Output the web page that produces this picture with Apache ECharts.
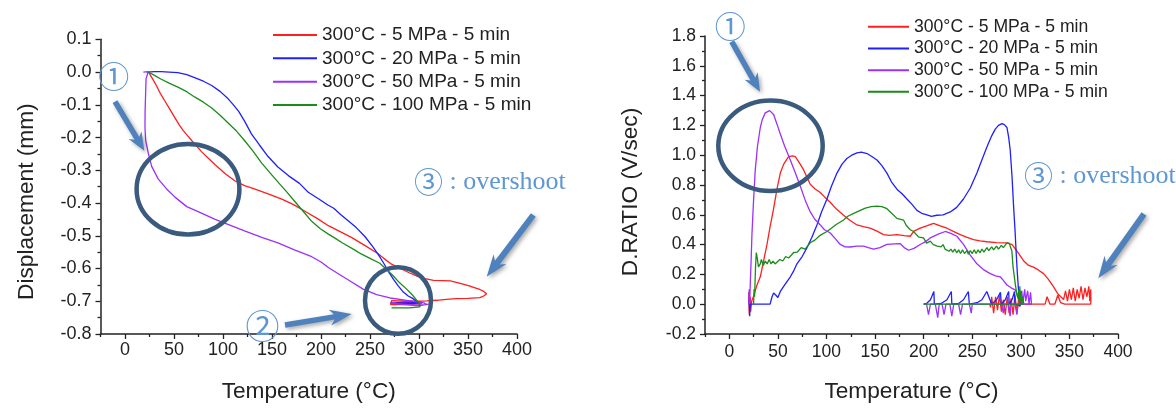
<!DOCTYPE html>
<html>
<head>
<meta charset="utf-8">
<script src="https://cdn.jsdelivr.net/npm/echarts@6/dist/echarts.min.js"></script>
<style>
html,body{margin:0;padding:0;background:#fff;}
#c{width:1176px;height:408px;}
</style>
</head>
<body>
<div id="c"></div>
<script>
// ---------- data ----------
const seriesNames = ['300°C - 5 MPa - 5 min', '300°C - 20 MPa - 5 min', '300°C - 50 MPa - 5 min', '300°C - 100 MPa - 5 min'];
const seriesColors = ['#ff1f1f', '#1f1fff', '#9b30ff', '#1a8c1a'];
const xMajorTicks = [0, 50, 100, 150, 200, 250, 300, 350, 400];
const xMinorTicks = [-25, 25, 75, 125, 175, 225, 275, 325, 375];

// Left chart: Displacement (mm) vs Temperature (°C)
const disp5 = [[24,0],[28,-0.02],[32,-0.041],[36,-0.065],[41,-0.09],[46,-0.115],[51,-0.14],[55,-0.16],[59.5,-0.179],[64,-0.195],[68,-0.209],[73,-0.226],[78,-0.243],[85,-0.263],[92,-0.283],[102,-0.31],[112,-0.332],[122,-0.347],[132,-0.357],[146,-0.372],[160,-0.388],[172,-0.405],[184,-0.426],[196,-0.447],[208,-0.47],[220,-0.488],[231,-0.505],[245,-0.53],[258,-0.554],[264,-0.569],[271,-0.585],[281,-0.6],[290,-0.613],[298,-0.623],[306,-0.631],[315,-0.636],[324,-0.637],[332,-0.638],[338,-0.642],[345,-0.648],[352,-0.654],[358,-0.66],[362,-0.664],[366,-0.67],[369,-0.677],[366,-0.684],[362,-0.689],[350,-0.691],[338,-0.692],[328,-0.694],[318,-0.697],[308,-0.699],[300,-0.7],[290,-0.699],[280,-0.699],[272,-0.698],[271,-0.704],[271,-0.71],[282,-0.71],[294,-0.709],[303,-0.707],[296,-0.703],[285,-0.703],[276,-0.704]];
const disp20 = [[22,0],[30,0.001],[37,0.001],[45,0],[54,-0.002],[63,-0.008],[71,-0.017],[80,-0.028],[88.5,-0.041],[97,-0.059],[105,-0.081],[110,-0.098],[116,-0.12],[122,-0.15],[129,-0.189],[137,-0.222],[146,-0.258],[156,-0.29],[167,-0.317],[178,-0.34],[187,-0.367],[197,-0.386],[207,-0.406],[213,-0.416],[220,-0.435],[228,-0.455],[236,-0.475],[245,-0.503],[253,-0.534],[259,-0.56],[264,-0.584],[269,-0.61],[274,-0.633],[279,-0.654],[284,-0.672],[289,-0.684],[294,-0.692],[298,-0.702],[290,-0.705],[280,-0.705],[271,-0.705],[280,-0.707],[295,-0.707],[300,-0.704]];
const disp50 = [[18.7,0],[23.8,0.001],[21.5,-0.02],[21,-0.071],[20.5,-0.12],[20.4,-0.17],[21.1,-0.209],[23.8,-0.248],[27.2,-0.288],[34,-0.327],[42.5,-0.357],[51,-0.382],[63,-0.411],[78,-0.431],[92,-0.45],[105,-0.465],[122,-0.485],[139.5,-0.505],[156,-0.522],[173.5,-0.544],[190.5,-0.564],[200,-0.58],[207.5,-0.597],[216,-0.613],[229.6,-0.638],[243,-0.663],[256.8,-0.68],[270.4,-0.69],[287.4,-0.697],[297.6,-0.702],[305,-0.705],[308,-0.71],[295,-0.712],[280,-0.708],[272,-0.706],[285,-0.71],[300,-0.714],[310,-0.709]];
const disp100 = [[24,0],[30,-0.01],[37,-0.022],[45,-0.034],[54,-0.046],[63,-0.06],[71,-0.076],[80,-0.092],[88.5,-0.11],[97,-0.132],[105,-0.155],[114,-0.181],[122,-0.209],[131,-0.243],[139.5,-0.278],[148,-0.308],[156.4,-0.337],[165,-0.366],[173.5,-0.396],[182,-0.426],[190.5,-0.456],[199,-0.478],[207.5,-0.495],[213,-0.505],[222,-0.522],[234.7,-0.544],[240,-0.554],[250,-0.569],[260,-0.584],[267,-0.603],[273.8,-0.623],[280,-0.643],[287.4,-0.663],[293,-0.68],[297.6,-0.697],[300,-0.705],[301,-0.717],[290,-0.72],[280,-0.72],[272,-0.72]];

// Right chart: D.RATIO (V/sec) vs Temperature (°C)
const ratio5 = [[20,0.08],[20.5,-0.07],[21.5,0.05],[22,-0.05],[23,0.02],[25,0.053],[28,0.12],[31.9,0.184],[35,0.28],[38.8,0.401],[42,0.52],[45.6,0.641],[49,0.77],[52.5,0.88],[56,0.94],[61,0.99],[65,0.995],[67.9,0.99],[72,0.95],[76.4,0.903],[80,0.85],[83.3,0.805],[88,0.775],[93.6,0.75],[98,0.72],[103.9,0.684],[110,0.64],[117.6,0.597],[124,0.563],[131.4,0.532],[138,0.52],[145,0.51],[152,0.49],[158.7,0.467],[165,0.462],[172.5,0.467],[180,0.46],[186.2,0.456],[190,0.49],[196.5,0.51],[203,0.525],[210.2,0.543],[217,0.525],[224,0.51],[230,0.49],[237.7,0.467],[244,0.45],[251.3,0.434],[258,0.425],[265.1,0.419],[275,0.413],[285.7,0.412],[291,0.4],[296,0.357],[300,0.32],[302.8,0.292],[308,0.26],[313,0.249],[318,0.23],[323.4,0.205],[328,0.17],[333.6,0.118],[338,0.07],[344,0.031],[346,0.09],[348,0.02],[350,0.1],[352,0.03],[354,0.11],[356,0.02],[358,0.1],[360,0.04],[362,0.12],[364,0.03],[366,0.11],[368,0.05],[370,0.12],[371,0.02],[372,0.1],[372,0],[360,0],[345,0],[341,0.01],[338,0.06],[335,0],[330,0],[327,0.05],[325,0],[310,0],[300,0],[298,0.05],[296,-0.06],[294,0.06],[292,-0.07],[290,0.04],[288,-0.06],[286,0.05],[284,-0.07],[282,0.03],[280,-0.05],[278,0.06],[276,-0.04],[274,0.05],[272,-0.06],[270,0.05],[269,-0.02],[268,0]];
const ratio20 = [[20,0],[20.5,0.05],[21,-0.08],[21.5,0],[30,0],[42,0],[44,0.05],[45.6,0.075],[48,0.06],[50,0.045],[52.5,0.086],[57,0.13],[62.8,0.184],[66,0.22],[69.6,0.271],[75,0.32],[80,0.38],[85,0.45],[90.2,0.532],[95,0.62],[100.5,0.706],[105,0.79],[110.8,0.88],[116,0.94],[121,0.978],[126,1.0],[131.4,1.016],[136,1.02],[141.7,1.011],[147,0.99],[152,0.968],[157,0.93],[162.2,0.88],[167,0.82],[172.5,0.772],[178,0.74],[182.8,0.706],[188,0.67],[193.1,0.63],[198,0.61],[203.4,0.6],[208,0.59],[213.6,0.597],[220,0.6],[227.4,0.619],[234,0.65],[241,0.706],[248,0.78],[254.8,0.88],[260,0.97],[265.1,1.055],[270,1.13],[273.7,1.175],[277,1.2],[280.6,1.212],[283,1.205],[285.7,1.186],[287.5,1.12],[289.1,1.033],[291,0.85],[292.5,0.663],[294,0.5],[295.3,0.336],[296.5,0.2],[297.6,0.096],[299.4,-0.013],[300,0],[294,0],[293.5,0.085],[291,0.03],[288,0],[287.5,0.085],[284,0.03],[280,0],[279,0.08],[275,0.03],[270,0],[265,0.085],[260,0.03],[255,0.01],[247,0],[246,0.085],[241,0.03],[236,0.005],[229,0],[228.5,0.085],[224,0.03],[218,0.005],[211,0],[210.5,0.085],[207,0.03],[203,0.005],[200,0]];
const ratio50 = [[20,0],[20.5,0.1],[21,0],[21.6,0.14],[22.5,0.3],[23.3,0.467],[25,0.7],[26.7,0.9],[29,1.06],[31.9,1.186],[34,1.24],[37,1.284],[41.5,1.299],[43.5,1.29],[45.6,1.273],[49,1.21],[52.5,1.142],[57,1.06],[62.8,0.968],[68,0.88],[73,0.793],[78,0.7],[83.3,0.619],[88,0.57],[93.6,0.532],[98,0.5],[103.9,0.478],[109,0.44],[114.2,0.401],[119,0.385],[124.5,0.384],[131,0.39],[138.2,0.39],[143,0.38],[148.5,0.369],[155,0.38],[162.2,0.401],[170,0.405],[176,0.406],[180,0.38],[184.5,0.362],[190,0.375],[196.5,0.401],[202,0.42],[206.8,0.445],[215,0.47],[222.2,0.488],[228,0.475],[234.2,0.456],[241,0.401],[248,0.33],[254.8,0.271],[262,0.23],[268.5,0.205],[274,0.19],[278.8,0.184],[282,0.16],[285.7,0.129],[290,0.11],[294.2,0.096],[297,0.06],[299.4,0.031],[301,0.09],[302,0.01],[304,0.1],[305,0.02],[307,0.09],[308.5,0],[310,0.08],[311,0],[300,0],[297,0],[296,-0.07],[294,0],[290,0],[289,-0.08],[287,0],[283,0],[282,-0.06],[280,0],[250,0],[249,-0.06],[247,0],[240,0],[238,-0.07],[236,0],[231,0],[229,-0.08],[227,0],[223,0],[221,-0.07],[219,0],[216,0],[214.5,-0.09],[212,0],[207,0],[205,-0.07],[203,0],[200,0]];
const ratio100 = [[25,0],[25.5,0.1],[26,0.05],[27,0.25],[27.8,0.347],[29,0.3],[30,0.25],[31.9,0.271],[33,0.3],[35,0.26],[37,0.29],[39,0.27],[41,0.3],[43,0.27],[45,0.29],[47,0.27],[49,0.282],[52,0.3],[55,0.29],[58,0.32],[61,0.31],[64,0.33],[66.2,0.347],[70,0.35],[74,0.38],[78,0.37],[83.3,0.412],[88,0.43],[93,0.46],[100.5,0.488],[105,0.51],[110,0.535],[117.6,0.565],[122,0.59],[128,0.61],[134.8,0.63],[140,0.645],[146,0.655],[152,0.658],[157,0.655],[162.2,0.641],[167,0.61],[172.5,0.576],[179.3,0.565],[182,0.53],[186.2,0.5],[189.6,0.488],[195,0.45],[199.9,0.445],[203,0.41],[206.8,0.423],[210,0.4],[214,0.39],[218,0.385],[220,0.4],[222,0.37],[224,0.38],[226,0.355],[228,0.37],[230,0.35],[232,0.37],[234,0.345],[236,0.365],[238,0.34],[240,0.365],[242,0.34],[244.5,0.36],[246,0.335],[248,0.36],[250,0.34],[252,0.365],[254,0.34],[256,0.365],[258,0.345],[260,0.37],[262,0.35],[265.1,0.38],[267,0.36],[270,0.385],[272,0.365],[275,0.39],[277,0.37],[280,0.395],[282,0.38],[285.7,0.412],[288,0.41],[290.8,0.357],[292,0.25],[294.2,0.14],[296,0.06],[297.6,0.031],[298,0.1],[298.5,0],[299,0.12],[299.5,0.02],[300,0.09],[301,0],[302,0.05],[303,0],[290,0],[250,0],[200,0]];

// ---------- chart ----------
const FONT = '"Liberation Sans", Arial, sans-serif';
const AX = '#222';
const chart = echarts.init(document.getElementById('c'), null, {renderer: 'canvas'});

function fmt1(v) { return Math.abs(v) < 1e-9 ? '0.0' : v.toFixed(1); }

function xMain(gi, fs, margin) {
  return {
    gridIndex: gi, type: 'value', min: -25, max: 400, position: 'bottom',
    name: 'Temperature (°C)', nameLocation: 'middle', nameGap: 46,
    nameTextStyle: {fontSize: 22.7, color: AX, fontFamily: FONT},
    axisLine: {show: true, onZero: false, lineStyle: {color: AX, width: 1.5}},
    axisTick: {show: true, customValues: xMajorTicks, length: 5, lineStyle: {color: AX, width: 1.3}},
    axisLabel: {customValues: xMajorTicks, fontSize: fs, color: AX, fontFamily: FONT, margin: margin},
    splitLine: {show: false}
  };
}
function xMinor(gi) {
  return {
    gridIndex: gi, type: 'value', min: -25, max: 400, position: 'bottom',
    axisLine: {show: false, onZero: false},
    axisTick: {show: true, customValues: xMinorTicks, length: 3, lineStyle: {color: AX, width: 1.3}},
    axisLabel: {show: false},
    splitLine: {show: false}
  };
}
function yAx(gi, min, max, interval, name, fs, nameGap, pad) {
  return {
    gridIndex: gi, type: 'value', min: min, max: max, interval: interval,
    name: name, nameLocation: 'middle', nameGap: nameGap, nameRotate: 90,
    nameTextStyle: {fontSize: 22.7, color: AX, fontFamily: FONT, padding: pad},
    axisLine: {show: true, onZero: false, lineStyle: {color: AX, width: 1.5}},
    axisTick: {show: true, length: 5, lineStyle: {color: AX, width: 1.3}},
    minorTick: {show: true, splitNumber: 2, length: 3, lineStyle: {color: AX, width: 1.3}},
    axisLabel: {fontSize: fs, color: AX, fontFamily: FONT, margin: 9, formatter: fmt1},
    splitLine: {show: false}, minorSplitLine: {show: false}
  };
}
function lineSeries(i, data, xi, yi) {
  return {
    name: seriesNames[i], type: 'line', data: data, xAxisIndex: xi, yAxisIndex: yi,
    symbol: 'none', showSymbol: false, silent: true,
    lineStyle: {color: seriesColors[i], width: 1.3},
    itemStyle: {color: seriesColors[i]},
    z: 2
  };
}
function arrowPts(x1, y1, x2, y2, sw, hw, hl) {
  const dx = x2 - x1, dy = y2 - y1, L = Math.hypot(dx, dy);
  const ux = dx / L, uy = dy / L, nx = -uy, ny = ux;
  const jx = x2 - ux * hl * 0.8, jy = y2 - uy * hl * 0.8;
  const bx = x2 - ux * hl, by = y2 - uy * hl;
  return [
    [x1 + nx * sw / 2, y1 + ny * sw / 2],
    [jx + nx * sw / 2, jy + ny * sw / 2],
    [bx + nx * hw / 2, by + ny * hw / 2],
    [x2, y2],
    [bx - nx * hw / 2, by - ny * hw / 2],
    [jx - nx * sw / 2, jy - ny * sw / 2],
    [x1 - nx * sw / 2, y1 - ny * sw / 2]
  ];
}
const ARROW = '#4f81bd', RING = '#3a5a7e', NOTE = '#5f97d3';
function arrow(x1, y1, x2, y2, sw, hw, hl) {
  return {type: 'polygon', z: 100, silent: true, shape: {points: arrowPts(x1, y1, x2, y2, sw, hw, hl)},
    style: {fill: ARROW, shadowBlur: 4, shadowColor: 'rgba(0,0,0,0.35)', shadowOffsetX: 2, shadowOffsetY: 2}};
}
function ring(cx, cy, rx, ry) {
  return {type: 'ellipse', z: 100, silent: true, shape: {cx: cx, cy: cy, rx: rx, ry: ry},
    style: {fill: 'none', stroke: RING, lineWidth: 4.5}};
}
function note(text, x, y, size, align, family) {
  return {type: 'text', z: 100, silent: true, x: x, y: y,
    style: {text: text, fill: NOTE, fontSize: size, fontFamily: family, align: align, verticalAlign: 'middle'}};
}
function overshoot(x, y) {
  return {type: 'text', z: 100, silent: true, x: x, y: y,
    style: {text: '{c|③} : overshoot', fill: NOTE, fontSize: 26, fontFamily: SERIF, align: 'left', verticalAlign: 'middle',
      rich: {c: {fontSize: 29, fontFamily: CJK, fill: NOTE}}}};
}
const CJK = '"Noto Sans CJK JP", sans-serif';
const SERIF = '"Liberation Serif", "Noto Sans CJK JP", serif';

chart.setOption({
  animation: false,
  backgroundColor: '#fff',
  textStyle: {fontFamily: FONT},
  grid: [
    {left: 100.5, top: 39.3, width: 416.5, height: 304.2},
    {left: 705, top: 36, width: 413, height: 306}
  ],
  xAxis: [xMain(0, 18, 7), xMinor(0), xMain(1, 17.5, 9), xMinor(1)],
  yAxis: [
    yAx(0, -0.8, 0.1, 0.1, 'Displacement (mm)', 18, 62, [0, 30, 0, 0]),
    yAx(1, -0.2, 1.8, 0.2, 'D.RATIO (V/sec)', 17.5, 63, [0, 14, 0, 0])
  ],
  legend: [
    {orient: 'vertical', left: 273, top: 23.4, padding: 0, itemWidth: 44, itemHeight: 2, itemGap: 0, icon: 'rect',
     selectedMode: false, data: seriesNames,
     textStyle: {fontSize: 19, lineHeight: 23.3, color: AX, fontFamily: FONT}},
    {orient: 'vertical', left: 868, top: 15.9, padding: 0, itemWidth: 41, itemHeight: 2, itemGap: 0, icon: 'rect',
     selectedMode: false, data: seriesNames,
     textStyle: {fontSize: 17.6, lineHeight: 21.7, color: AX, fontFamily: FONT}}
  ],
  series: [
    lineSeries(0, disp5, 0, 0), lineSeries(1, disp20, 0, 0), lineSeries(2, disp50, 0, 0), lineSeries(3, disp100, 0, 0),
    lineSeries(0, ratio5, 2, 1), lineSeries(1, ratio20, 2, 1), lineSeries(2, ratio50, 2, 1), lineSeries(3, ratio100, 2, 1)
  ],
  graphic: [
    ring(188, 189.2, 51.4, 45.3),
    ring(398, 300.5, 33, 33.3),
    ring(770.5, 145.8, 52.2, 45.2),
    arrow(115, 101.7, 144.3, 150.7, 5.5, 15, 18),
    arrow(285, 325, 351.7, 314, 5.5, 16, 22),
    arrow(533.3, 215, 486.7, 276.7, 6, 16, 22),
    arrow(731.7, 41.7, 760, 91.7, 5.5, 15, 18),
    arrow(1144, 214, 1098.3, 278.3, 6, 16, 22),
    note('①', 113.7, 75.8, 31, 'center', CJK),
    note('①', 730.3, 26.7, 31, 'center', CJK),
    note('②', 262.5, 326.5, 34, 'center', CJK),
    overshoot(414, 181.7),
    overshoot(1024, 175.7)
  ]
});
</script>
</body>
</html>
